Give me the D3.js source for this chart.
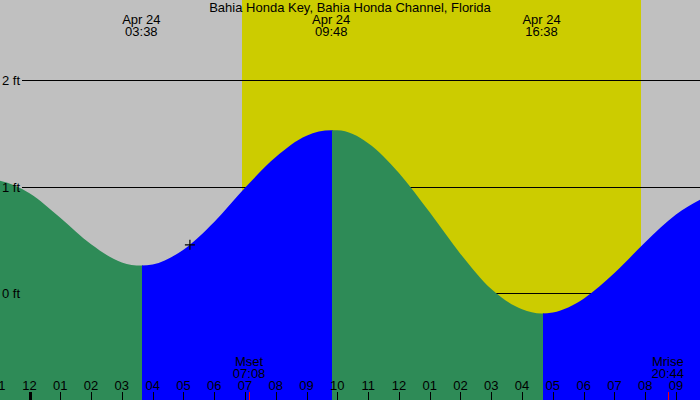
<!DOCTYPE html>
<html>
<head>
<meta charset="utf-8">
<script src="https://cdn.jsdelivr.net/npm/d3@7"></script>
<style>
  body { margin: 0; background: #fff; }
  text { font-family: "Liberation Sans", Arial, sans-serif; font-size: 13px; fill: #000; }
</style>
</head>
<body>
<div id="plot"></div>
<script>
// Chart size
const width = 700;
const height = 400;

// Tide heights (ft), hours from midnight Apr 24
const tideHours = [-1.3, -1, 0, 1, 2, 3, 3.633, 4, 5, 6, 7, 8, 9, 9.8, 10, 11, 12, 13, 14, 15, 16, 16.633, 17, 18, 19, 20, 21, 22];
const tideFeet  = [1.07, 1.06, 0.94, 0.71, 0.46, 0.29, 0.26, 0.27, 0.41, 0.67, 0.99, 1.28, 1.48, 1.53, 1.53, 1.41, 1.13, 0.76, 0.37, 0.04, -0.15, -0.19, -0.18, -0.05, 0.19, 0.48, 0.74, 0.91];

// High / low tides
const extremeHours = [3.633, 9.8, 16.633];
const extremeDates = ["Apr 24", "Apr 24", "Apr 24"];
const extremeTimes = ["03:38", "09:48", "16:38"];

// Daylight
const sunriseHour = 6.9;
const sunsetHour = 19.87;

// Moon events
const moonHours = [7.133, 20.733];
const moonNames = ["Mset", "Mrise"];
const moonTimes = ["07:08", "20:44"];

// Hour ticks along the bottom
const tickHours  = [-1, 0, 1, 2, 3, 4, 5, 6, 7, 8, 9, 10, 11, 12, 13, 14, 15, 16, 17, 18, 19, 20, 21];
const tickLabels = ["11", "12", "01", "02", "03", "04", "05", "06", "07", "08", "09", "10", "11", "12", "01", "02", "03", "04", "05", "06", "07", "08", "09"];

// Height grid
const gridFeet = [0, 1, 2];

// Current time marker
const nowHour = 5.21;
const nowFeet = 0.455;

const title = "Bahia Honda Key, Bahia Honda Channel, Florida";

const svg = d3.select("#plot")
  .append("svg")
  .attr("width", width)
  .attr("height", height);

const x = d3.scaleLinear().domain([0, 21]).range([29.5, 676]);
const y = d3.scaleLinear().domain([0, 2]).range([293.3, 80.3]);

// Night background
svg.append("rect")
  .attr("width", width)
  .attr("height", height)
  .attr("fill", "#c0c0c0");

// Daylight band
svg.append("rect")
  .attr("x", Math.round(x(sunriseHour)))
  .attr("y", 0)
  .attr("width", Math.round(x(sunsetHour)) - Math.round(x(sunriseHour)))
  .attr("height", height)
  .attr("fill", "#cccc00")
  .attr("shape-rendering", "crispEdges");

// Grid lines (sit behind the water)
svg.selectAll("line.grid")
  .data(gridFeet)
  .enter().append("line")
  .attr("class", "grid")
  .attr("x1", 22)
  .attr("x2", width)
  .attr("y1", d => Math.round(y(d)) + 0.5)
  .attr("y2", d => Math.round(y(d)) + 0.5)
  .attr("stroke", "#000")
  .attr("stroke-width", 1);

// Tide area used as a clip, coloured by falling / rising
const tidePoints = tideHours.map((h, i) => [h, tideFeet[i]]);

const area = d3.area()
  .x(d => x(d[0]))
  .y0(height)
  .y1(d => y(d[1]))
  .curve(d3.curveMonotoneX);

svg.append("clipPath")
  .attr("id", "tide-clip")
  .append("path")
  .attr("d", area(tidePoints));

const bounds = [tideHours[0]].concat(extremeHours, [tideHours[tideHours.length - 1]]);
const segments = d3.pairs(bounds).map((p, i) => ({ from: p[0], to: p[1], falling: i % 2 === 0 }));

// each band overlaps the next by a pixel so no seam shows
svg.append("g")
  .attr("clip-path", "url(#tide-clip)")
  .selectAll("rect")
  .data(segments)
  .enter().append("rect")
  .attr("x", d => Math.round(x(d.from)) + 1)
  .attr("y", 0)
  .attr("width", d => Math.round(x(d.to)) - Math.round(x(d.from)) + 1)
  .attr("height", height)
  .attr("fill", d => d.falling ? "#2e8b57" : "#0000ff");

// Height labels on top of the water
svg.selectAll("text.ylab")
  .data(gridFeet)
  .enter().append("text")
  .attr("class", "ylab")
  .attr("x", 2)
  .attr("y", d => y(d) + 5)
  .text(d => d + " ft");

// Title
svg.append("text")
  .attr("x", width / 2)
  .attr("y", 12)
  .attr("text-anchor", "middle")
  .text(title);

// High / low labels
const ext = svg.selectAll("g.ext")
  .data(extremeHours)
  .enter().append("g")
  .attr("class", "ext");

ext.append("text")
  .attr("x", d => x(d))
  .attr("y", 24)
  .attr("text-anchor", "middle")
  .text((d, i) => extremeDates[i]);

ext.append("text")
  .attr("x", d => x(d))
  .attr("y", 36)
  .attr("text-anchor", "middle")
  .text((d, i) => extremeTimes[i]);

// Hour ticks
svg.selectAll("line.tick")
  .data(tickHours)
  .enter().append("line")
  .attr("class", "tick")
  .attr("x1", d => Math.round(x(d)) + 0.5)
  .attr("x2", d => Math.round(x(d)) + 0.5)
  .attr("y1", 392)
  .attr("y2", height)
  .attr("stroke", "#000")
  .attr("stroke-width", d => d % 24 === 0 ? 3 : 1);

svg.selectAll("text.hour")
  .data(tickHours)
  .enter().append("text")
  .attr("class", "hour")
  .attr("x", d => x(d))
  .attr("y", 390)
  .attr("text-anchor", "middle")
  .text((d, i) => tickLabels[i]);

// Moon events
svg.selectAll("line.moon")
  .data(moonHours)
  .enter().append("line")
  .attr("class", "moon")
  .attr("x1", d => Math.round(x(d)) + 0.5)
  .attr("x2", d => Math.round(x(d)) + 0.5)
  .attr("y1", 392)
  .attr("y2", height)
  .attr("stroke", "#ff0000")
  .attr("stroke-width", 1);

svg.selectAll("text.moonName")
  .data(moonHours)
  .enter().append("text")
  .attr("class", "moonName")
  .attr("x", d => x(d))
  .attr("y", 366)
  .attr("text-anchor", "middle")
  .text((d, i) => moonNames[i]);

svg.selectAll("text.moonTime")
  .data(moonHours)
  .enter().append("text")
  .attr("class", "moonTime")
  .attr("x", d => x(d))
  .attr("y", 378)
  .attr("text-anchor", "middle")
  .text((d, i) => moonTimes[i]);

// Current time cross
const cx = x(nowHour);
const cy = y(nowFeet);
svg.append("path")
  .attr("d", `M${cx - 5},${cy}H${cx + 5}M${cx},${cy - 5}V${cy + 5}`)
  .attr("stroke", "#000")
  .attr("stroke-width", 1.2);
</script>
</body>
</html>
